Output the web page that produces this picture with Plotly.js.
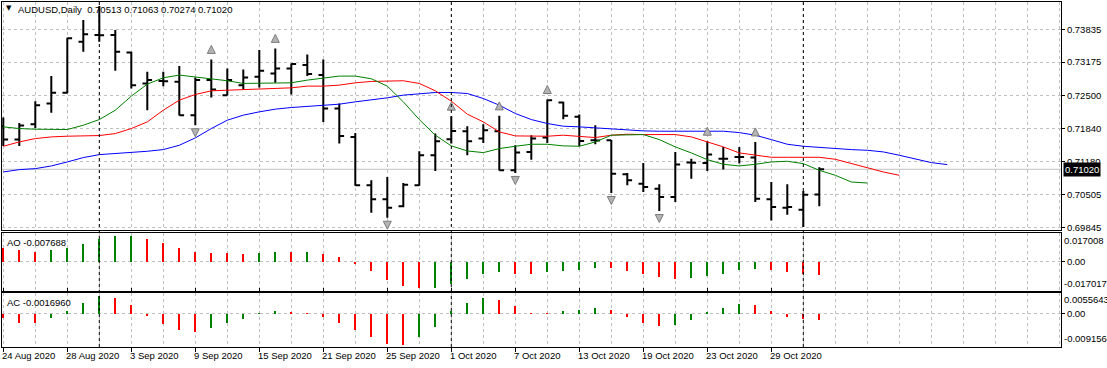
<!DOCTYPE html>
<html>
<head>
<meta charset="utf-8">
<script src="https://cdn.plot.ly/plotly-3.0.1.min.js"></script>
<style>
  html, body { margin: 0; padding: 0; background: #ffffff; }
  #chart { width: 1107px; height: 368px; }
</style>
</head>
<body>
<div id="chart"></div>
<script>
// ---------------- DATA ----------------
const symbolTitle = "AUDUSD,Daily";
const dates = [
  "24 Aug 2020","25 Aug 2020","26 Aug 2020","27 Aug 2020","28 Aug 2020","31 Aug 2020",
  "1 Sep 2020","2 Sep 2020","3 Sep 2020","4 Sep 2020","7 Sep 2020","8 Sep 2020","9 Sep 2020",
  "10 Sep 2020","11 Sep 2020","14 Sep 2020","15 Sep 2020","16 Sep 2020","17 Sep 2020","18 Sep 2020",
  "21 Sep 2020","22 Sep 2020","23 Sep 2020","24 Sep 2020","25 Sep 2020","28 Sep 2020","29 Sep 2020",
  "30 Sep 2020","1 Oct 2020","2 Oct 2020","5 Oct 2020","6 Oct 2020","7 Oct 2020","8 Oct 2020",
  "9 Oct 2020","12 Oct 2020","13 Oct 2020","14 Oct 2020","15 Oct 2020","16 Oct 2020","19 Oct 2020",
  "20 Oct 2020","21 Oct 2020","22 Oct 2020","23 Oct 2020","26 Oct 2020","27 Oct 2020","28 Oct 2020",
  "29 Oct 2020","30 Oct 2020","2 Nov 2020","3 Nov 2020"
];
const openP = [0.71886,0.71617,0.71926,0.72343,0.72558,0.73585,0.73720,0.73720,0.73370,0.72746,
  0.72793,0.72779,0.72108,0.72813,0.72511,0.72712,0.72880,0.72947,0.73048,0.73115,
  0.72914,0.72242,0.71671,0.70697,0.70415,0.70274,0.70697,0.71302,0.71624,0.71785,
  0.71637,0.71785,0.70999,0.71369,0.71658,0.72363,0.72074,0.71604,0.71604,0.70919,
  0.70731,0.70630,0.70462,0.71154,0.71147,0.71234,0.71268,0.71255,0.70415,0.70247,
  0.70207,0.70513];
const highP = [0.72061,0.71953,0.72390,0.72894,0.73666,0.74022,0.74304,0.73820,0.73384,0.72981,
  0.72981,0.73095,0.72867,0.73229,0.73048,0.73028,0.73417,0.73451,0.73149,0.73330,
  0.73229,0.72343,0.71752,0.70798,0.70865,0.70744,0.71382,0.71738,0.72088,0.71886,
  0.71926,0.72094,0.71503,0.71705,0.72423,0.72377,0.72121,0.71906,0.71610,0.70946,
  0.71147,0.70717,0.71369,0.71234,0.71584,0.71470,0.71470,0.71570,0.70764,0.70717,
  0.70583,0.71063];
const lowP = [0.71490,0.71490,0.71852,0.72155,0.72550,0.73384,0.73585,0.73001,0.72645,0.72208,
  0.72692,0.72100,0.71906,0.72464,0.72505,0.72625,0.72665,0.72759,0.72524,0.72894,
  0.71973,0.71537,0.70690,0.70146,0.70046,0.70255,0.70690,0.70986,0.71537,0.71302,
  0.71550,0.70995,0.70946,0.71214,0.71550,0.72027,0.71483,0.71523,0.70543,0.70697,
  0.70563,0.70180,0.70361,0.70831,0.70986,0.71013,0.71134,0.70361,0.69992,0.70106,
  0.69857,0.70274];
const closeP = [0.71617,0.71899,0.72309,0.72558,0.73653,0.73733,0.73715,0.73384,0.72712,0.72813,
  0.72790,0.72108,0.72813,0.72625,0.72813,0.72867,0.73001,0.73048,0.73135,0.72934,
  0.72242,0.71691,0.70697,0.70415,0.70247,0.70711,0.71302,0.71584,0.71792,0.71584,
  0.71805,0.70999,0.71355,0.71637,0.72410,0.72094,0.71590,0.71600,0.70932,0.70798,
  0.70664,0.70462,0.71114,0.71150,0.71315,0.71230,0.71265,0.70428,0.70260,0.70260,
  0.70509,0.71020];

// Alligator (already shifted forward): jaw (blue), teeth (red), lips (green)
const jaw = [0.70966,0.71013,0.71033,0.71087,0.71167,0.71255,0.71315,0.71335,0.71355,0.71382,
  0.71416,0.71503,0.71651,0.71839,0.72007,0.72108,0.72175,0.72229,0.72262,0.72289,
  0.72302,0.72329,0.72376,0.72410,0.72457,0.72511,0.72544,0.72564,0.72564,0.72544,
  0.72443,0.72309,0.72141,0.72020,0.71940,0.71886,0.71873,0.71852,0.71839,0.71819,
  0.71792,0.71785,0.71785,0.71785,0.71785,0.71785,0.71758,0.71705,0.71617,0.71523,
  0.71483,0.71456,0.71436,0.71416,0.71402,0.71369,0.71302,0.71234,0.71154,0.71114];
const teeth = [0.71483,0.71570,0.71637,0.71671,0.71685,0.71698,0.71698,0.71738,0.71839,0.71973,
  0.72208,0.72410,0.72524,0.72598,0.72611,0.72625,0.72625,0.72645,0.72658,0.72692,
  0.72692,0.72712,0.72759,0.72786,0.72800,0.72800,0.72746,0.72598,0.72390,0.72128,
  0.71973,0.71772,0.71691,0.71685,0.71685,0.71705,0.71685,0.71658,0.71705,0.71725,
  0.71718,0.71718,0.71718,0.71671,0.71570,0.71470,0.71349,0.71302,0.71261,0.71261,
  0.71261,0.71261,0.71221,0.71134,0.71053,0.70966,0.70899];
const lips = [0.71873,0.71839,0.71826,0.71819,0.71819,0.71906,0.72020,0.72208,0.72491,0.72732,
  0.72860,0.72914,0.72880,0.72833,0.72800,0.72746,0.72746,0.72759,0.72759,0.72813,
  0.72847,0.72894,0.72894,0.72840,0.72692,0.72376,0.72020,0.71705,0.71490,0.71389,
  0.71355,0.71436,0.71483,0.71523,0.71523,0.71490,0.71483,0.71570,0.71705,0.71718,
  0.71718,0.71617,0.71470,0.71349,0.71214,0.71120,0.71087,0.71120,0.71167,0.71181,
  0.71134,0.70999,0.70899,0.70764,0.70744];

// Fractals (bar index and extreme price)
const fractalUpBar = [6,13,17,28,31,34,44,47];
const fractalUpPrice = [0.74304,0.73229,0.73451,0.72088,0.72094,0.72423,0.71584,0.71570];
const fractalDnBar = [12,24,32,38,41];
const fractalDnPrice = [0.71906,0.70046,0.70946,0.70543,0.70180];

// Awesome Oscillator and Accelerator Oscillator
const ao = [0.00822,0.00663,0.00587,0.00665,0.00822,0.01057,0.01350,0.01524,0.01532,0.01350,
  0.01115,0.00822,0.00587,0.00528,0.00518,0.00470,0.00528,0.00587,0.00575,0.00593,
  0.00470,0.00294,-0.00117,-0.00528,-0.01057,-0.01409,-0.01567,-0.01526,-0.01291,-0.01039,
  -0.00745,-0.00628,-0.00704,-0.00745,-0.00628,-0.00569,-0.00511,-0.00393,-0.00399,-0.00569,
  -0.00745,-0.00922,-0.01039,-0.00980,-0.00863,-0.00745,-0.00511,-0.00452,-0.00511,-0.00628,
  -0.00745,-0.007688];
const ac = [-0.00128,-0.00245,-0.00247,-0.00109,0.00082,0.00300,0.00472,0.00436,0.00245,-0.00055,
  -0.00273,-0.00463,-0.00518,-0.00382,-0.00245,-0.00136,0.00027,0.00082,0.00033,0.00022,
  -0.00082,-0.00245,-0.00463,-0.00654,-0.00845,-0.00853,-0.00654,-0.00354,0.00074,0.00300,
  0.00436,0.00382,0.00218,0.00027,0.00019,0.00082,0.00109,0.00164,0.00109,-0.00082,
  -0.00245,-0.00335,-0.00322,-0.00164,0.00055,0.00164,0.00273,0.00245,0.00082,-0.00082,
  -0.00160,-0.0016960];

// Axis labels
const priceTicks = [0.73835,0.73175,0.72500,0.71840,0.71180,0.70505,0.69845];
const priceTickText = ["0.73835","0.73175","0.72500","0.71840","0.71180","0.70505","0.69845"];
const aoScale = [-0.017017, 0.017008];
const aoScaleText = ["-0.017017", "0.017008"];
const acScale = [-0.0091560, 0.0055643];
const acScaleText = ["-0.0091560", "0.0055643"];
const lastPrice = 0.71020;
const lastPriceText = "0.71020";
const headerOHLC = "0.70513 0.71063 0.70274 0.71020";
const aoHeader = "AO -0.007688";
const acHeader = "AC -0.0016960";
const monthStartBars = [6, 28, 50];

// ---------------- BUILD ----------------
const FONT = "Liberation Sans, Arial, sans-serif";
const GRID = "#c0c0c0";
const DASH = "3px,3px";
const GREEN = "#008000", RED = "#ff0000";
const idx = (n) => Array.from({length: n}, (_, i) => i);
const colorsFor = (arr) => arr.map((v, i) => (i > 0 && v > arr[i - 1]) ? GREEN : RED);

const pxPrice = (0.73835 - 0.69845) / 198.4;   // price per pixel in the main pane
const upOffset = 14 * pxPrice, dnOffset = 11.5 * pxPrice;

const traces = [
  {type: "scatter", mode: "lines", x: idx(jaw.length), y: jaw, line: {color: "#0000ff", width: 1}, xaxis: "x", yaxis: "y", hoverinfo: "skip"},
  {type: "scatter", mode: "lines", x: idx(teeth.length), y: teeth, line: {color: "#ff0000", width: 1}, xaxis: "x", yaxis: "y", hoverinfo: "skip"},
  {type: "scatter", mode: "lines", x: idx(lips.length), y: lips, line: {color: "#008000", width: 1}, xaxis: "x", yaxis: "y", hoverinfo: "skip"},
  {type: "ohlc", x: idx(dates.length), open: openP, high: highP, low: lowP, close: closeP,
   increasing: {line: {color: "#000000", width: 2}}, decreasing: {line: {color: "#000000", width: 2}},
   tickwidth: 0.3, xaxis: "x", yaxis: "y", hoverinfo: "skip"},
  {type: "scatter", mode: "markers", x: fractalUpBar, y: fractalUpPrice.map(v => v + upOffset),
   marker: {symbol: "arrow-up", size: 8, color: "#b4b4b4", line: {color: "#7a7a7a", width: 1}}, xaxis: "x", yaxis: "y", hoverinfo: "skip"},
  {type: "scatter", mode: "markers", x: fractalDnBar, y: fractalDnPrice.map(v => v - dnOffset),
   marker: {symbol: "arrow-down", size: 8, color: "#b4b4b4", line: {color: "#7a7a7a", width: 1}}, xaxis: "x", yaxis: "y", hoverinfo: "skip"},
  {type: "bar", x: idx(ao.length), y: ao, marker: {color: colorsFor(ao), line: {width: 0}}, width: 0.14, xaxis: "x", yaxis: "y2", hoverinfo: "skip"},
  {type: "bar", x: idx(ac.length), y: ac, marker: {color: colorsFor(ac), line: {width: 0}}, width: 0.14, xaxis: "x", yaxis: "y3", hoverinfo: "skip"}
];

const plotL = 2, plotR = 1061, plotT = 2, plotB = 347;
const plotH = plotB - plotT;
const dom = (topPx, botPx) => [(plotB - botPx) / plotH, (plotB - topPx) / plotH];
const pxPerBar = 16, firstBarPx = 3.3;
const xRange = [(plotL - firstBarPx) / pxPerBar, (plotR - firstBarPx) / pxPerBar];

const mainTop = 2, mainBot = 230;
const yRange = [0.69845 - (mainBot - 227.7) * pxPrice, 0.73835 + (29.3 - mainTop) * pxPrice];

const axisFont = {family: FONT, size: 9.5, color: "#000000"};
const labelBars = idx(dates.length).filter(i => i % 4 === 0);

const annotations = [];
annotations.push({xref: "paper", yref: "paper", x: 0, y: 1, xanchor: "left", yanchor: "top", xshift: 2, yshift: 0,
  text: "▼", showarrow: false, font: {family: "DejaVu Sans, sans-serif", size: 7, color: "#000"}});
annotations.push({xref: "paper", yref: "paper", x: 0, y: 1, xanchor: "left", yanchor: "top", xshift: 14, yshift: 0,
  text: symbolTitle + "\u00a0\u00a0" + headerOHLC, showarrow: false, font: {family: FONT, size: 9.5, color: "#000"}});
const aoDom = dom(232.7, 290.7), acDom = dom(293.3, 347);
annotations.push({xref: "paper", yref: "paper", x: 0, y: aoDom[1], xanchor: "left", yanchor: "top", xshift: 3, yshift: -2,
  text: aoHeader, showarrow: false, font: {family: FONT, size: 9.5, color: "#000"}});
annotations.push({xref: "paper", yref: "paper", x: 0, y: acDom[1], xanchor: "left", yanchor: "top", xshift: 3, yshift: -2,
  text: acHeader, showarrow: false, font: {family: FONT, size: 9.5, color: "#000"}});
// indicator scale labels (MT4 style, inside the pane edges)
annotations.push({xref: "paper", yref: "y2", x: 1, y: aoScale[1], xanchor: "left", yanchor: "top", xshift: 1, yshift: 0, text: aoScaleText[1], showarrow: false, font: axisFont});
annotations.push({xref: "paper", yref: "y2", x: 1, y: aoScale[0], xanchor: "left", yanchor: "bottom", xshift: 1, yshift: 0, text: aoScaleText[0], showarrow: false, font: axisFont});
annotations.push({xref: "paper", yref: "y3", x: 1, y: acScale[1], xanchor: "left", yanchor: "top", xshift: 1, yshift: 1, text: acScaleText[1], showarrow: false, font: axisFont});
annotations.push({xref: "paper", yref: "y3", x: 1, y: acScale[0], xanchor: "left", yanchor: "bottom", xshift: 1, yshift: 1, text: acScaleText[0], showarrow: false, font: axisFont});
// last price box
annotations.push({xref: "paper", yref: "y", x: 1, y: lastPrice, xanchor: "left", yanchor: "middle", xshift: 2,
  text: lastPriceText, showarrow: false, bgcolor: "#000000", borderpad: 1, font: {family: FONT, size: 9.5, color: "#ffffff"}});
// date labels (left aligned at the bar, MT4 style)
labelBars.forEach(i => annotations.push({xref: "x", yref: "paper", x: i, y: 0, xanchor: "left", yanchor: "top",
  xshift: -3, yshift: -1, text: dates[i], showarrow: false, font: axisFont}));

const shapes = [];
monthStartBars.forEach(b => shapes.push({type: "line", xref: "x", yref: "paper", x0: b, x1: b, y0: 0, y1: 1,
  line: {color: "#000000", width: 1, dash: DASH}, layer: "above"}));
shapes.push({type: "line", xref: "paper", yref: "y", x0: 0, x1: 1, y0: lastPrice, y1: lastPrice,
  line: {color: "#c0c0c0", width: 1}, layer: "below"});

const layout = {
  width: 1107, height: 368,
  margin: {l: plotL, r: 1107 - plotR, t: plotT, b: 368 - plotB, pad: 0},
  paper_bgcolor: "#ffffff", plot_bgcolor: "#ffffff",
  showlegend: false, hovermode: false, dragmode: false, bargap: 0,
  font: {family: FONT, size: 9.5, color: "#000"},
  xaxis: {
    domain: [0, 1], range: xRange, anchor: "y3",
    tickmode: "array", tickvals: labelBars, showticklabels: false,
    ticks: "outside", ticklen: 4, tickcolor: "#000000", tickwidth: 1,
    showgrid: true, gridcolor: GRID, griddash: DASH, gridwidth: 1,
    minor: {tickmode: "linear", tick0: 0, dtick: 2, showgrid: true, gridcolor: GRID, griddash: DASH, gridwidth: 1, ticks: ""},
    showline: true, linecolor: "#000000", linewidth: 1, mirror: "all", zeroline: false,
    rangeslider: {visible: false}, fixedrange: true
  },
  yaxis: {
    domain: dom(mainTop, mainBot), range: yRange, side: "right",
    tickmode: "array", tickvals: priceTicks, ticktext: priceTickText,
    ticks: "outside", ticklen: 3, tickcolor: "#000000", tickfont: axisFont,
    showgrid: true, gridcolor: GRID, griddash: DASH, zeroline: false,
    showline: true, linecolor: "#000000", linewidth: 1, mirror: true, fixedrange: true
  },
  yaxis2: {
    domain: aoDom, range: aoScale, side: "right", anchor: "x",
    tickmode: "array", tickvals: [0], ticktext: ["0.00"],
    ticks: "outside", ticklen: 3, tickcolor: "#000000", tickfont: axisFont,
    showgrid: true, gridcolor: GRID, griddash: DASH, zeroline: false,
    showline: true, linecolor: "#000000", linewidth: 1, mirror: true, fixedrange: true
  },
  yaxis3: {
    domain: acDom, range: acScale, side: "right", anchor: "x",
    tickmode: "array", tickvals: [0], ticktext: ["0.00"],
    ticks: "outside", ticklen: 3, tickcolor: "#000000", tickfont: axisFont,
    showgrid: true, gridcolor: GRID, griddash: DASH, zeroline: false,
    showline: true, linecolor: "#000000", linewidth: 1, mirror: true, fixedrange: true
  },
  annotations: annotations,
  shapes: shapes
};

Plotly.newPlot("chart", traces, layout, {staticPlot: true, displayModeBar: false});
</script>
</body>
</html>
